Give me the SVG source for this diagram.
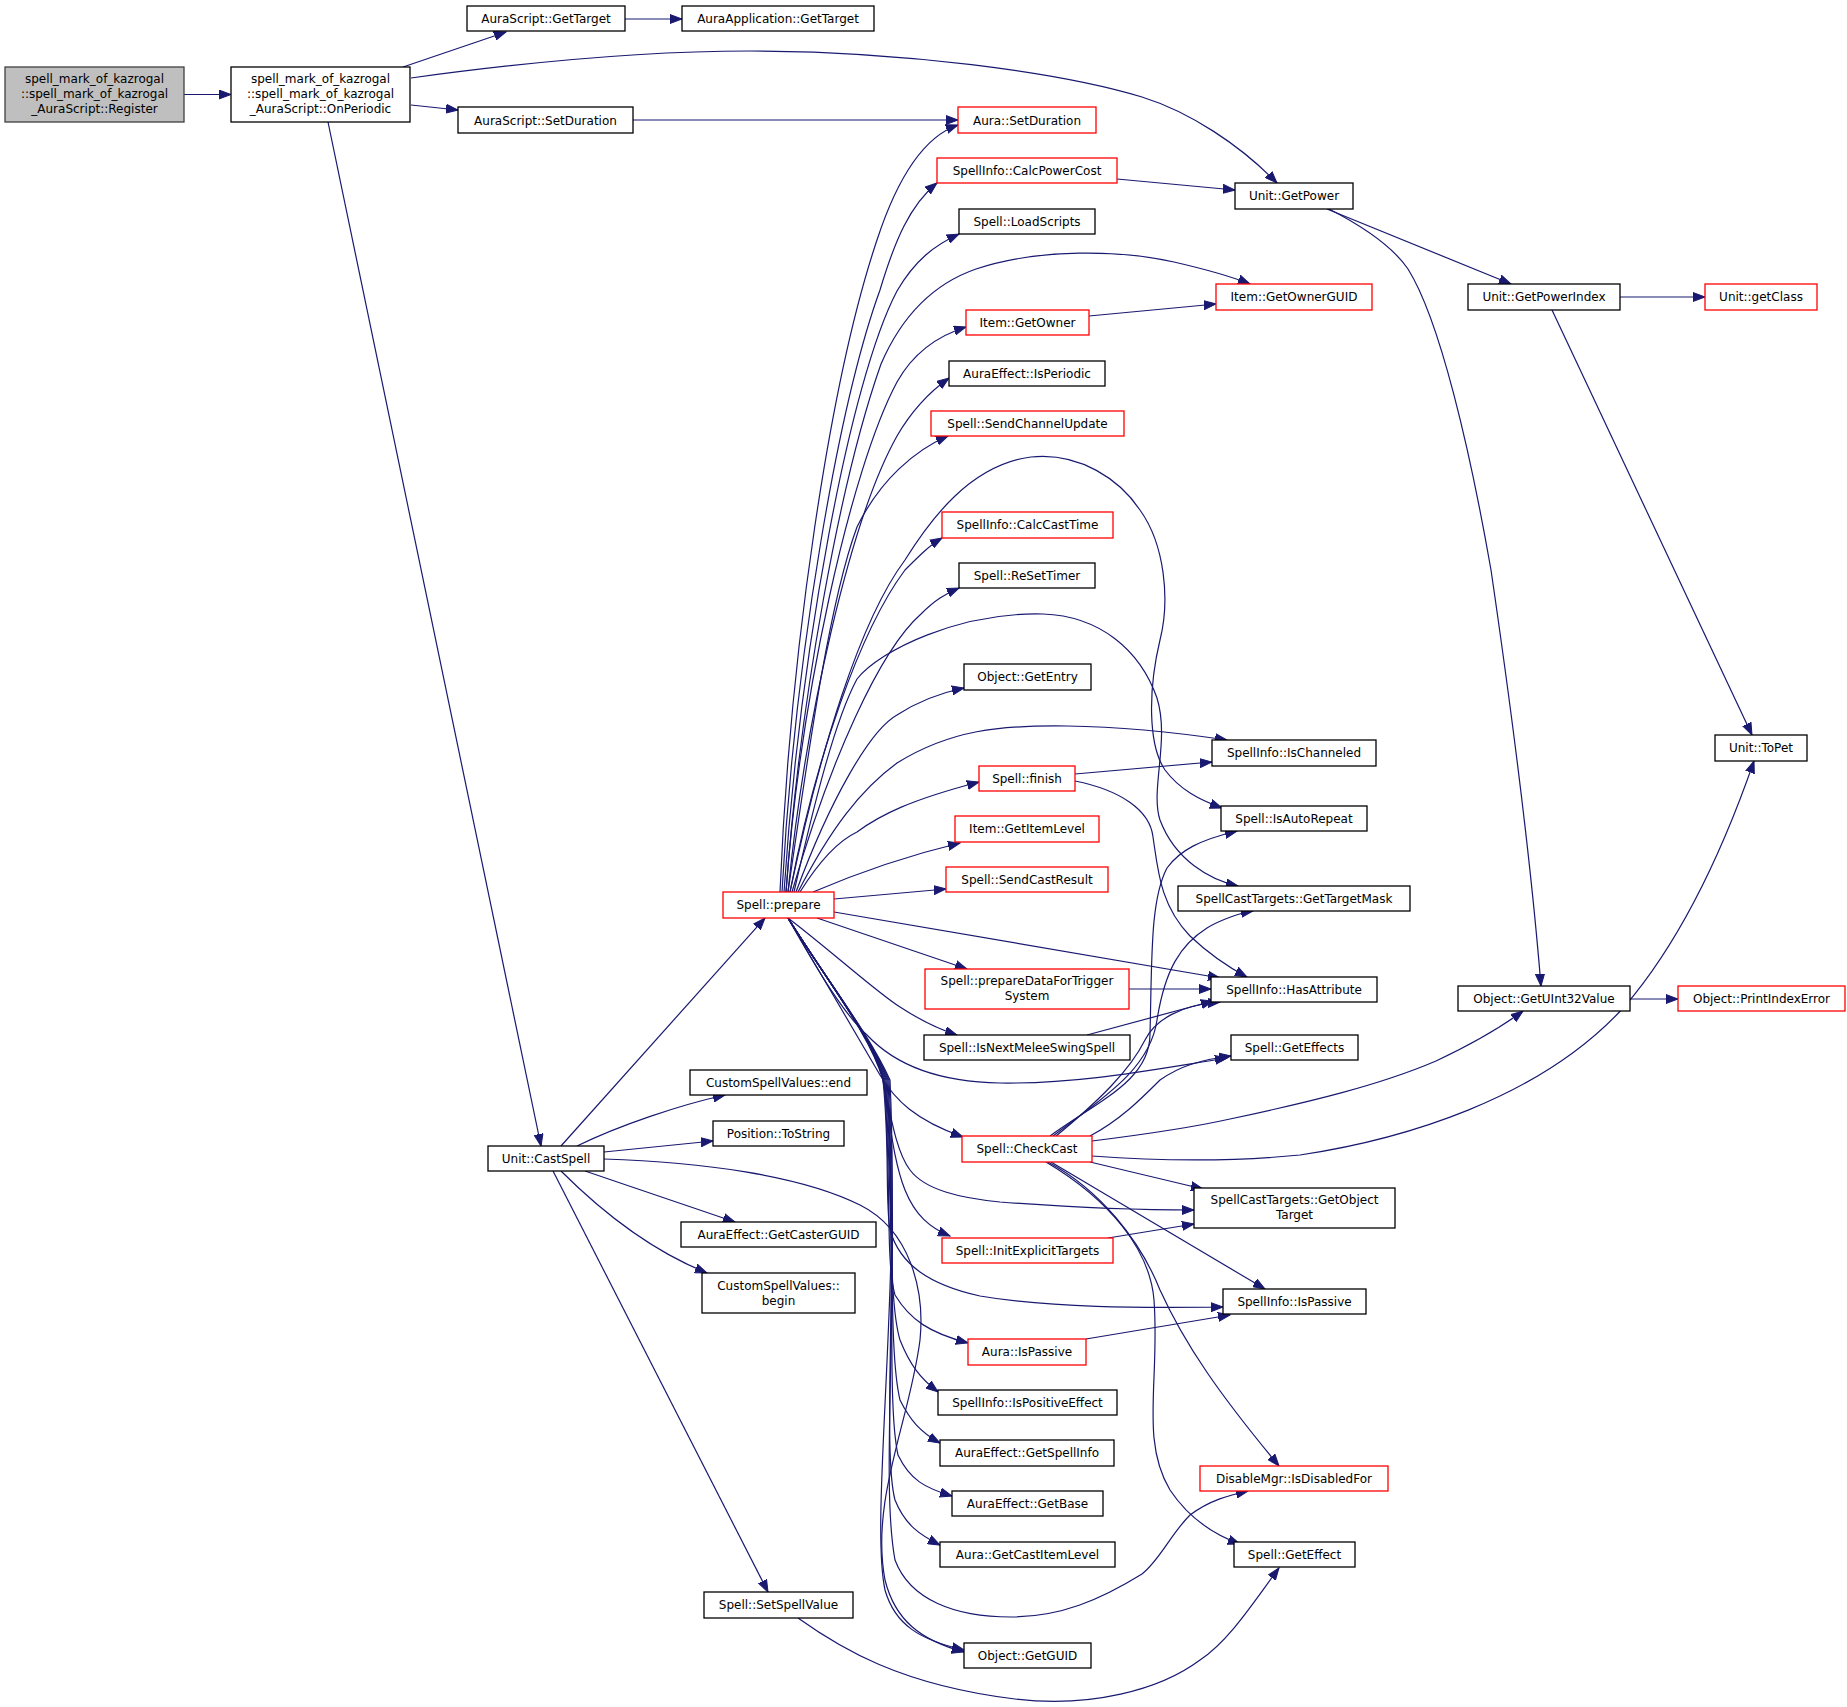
<svg xmlns="http://www.w3.org/2000/svg" width="1847" height="1707" viewBox="0 0 1847 1707">
<style>
.node rect{fill:#ffffff;stroke:#000000;stroke-width:1.3}
.node.red rect{stroke:#ff0000}
.node.root rect{fill:#bfbfbf;stroke:#404040}
text{font-family:"DejaVu Sans","Liberation Sans",sans-serif;font-size:12px;text-anchor:middle;fill:#000000}
#edges path{fill:none;stroke:#191970;stroke-width:1.2;marker-end:url(#arr)}
</style>
<defs>
<marker id="arr" markerUnits="userSpaceOnUse" markerWidth="14" markerHeight="10" refX="12" refY="5" orient="auto">
<path d="M0,0.5 L12,5 L0,9.5 z" fill="#191970" stroke="#191970" stroke-width="1"/>
</marker>
</defs>
<rect x="0" y="0" width="1847" height="1707" fill="#ffffff"/>
<g id="edges">
<path d="M184,94.5 L231,94.5"/>
<path d="M403,67 L506,32"/>
<path d="M411,78 C520,63 640,51 750,51 C900,51 1060,72 1142,97 C1190,112 1240,145 1277,183"/>
<path d="M411,105 L458,110"/>
<path d="M328,122 L541,1146"/>
<path d="M625,19 L682,19"/>
<path d="M633,120 L958,120"/>
<path d="M1117,179 L1235,190"/>
<path d="M1327,209 L1511,284"/>
<path d="M1329,209 C1370,230 1395,250 1408,269 C1440,320 1470,450 1491,570 C1510,700 1530,850 1541,986"/>
<path d="M1620,297 L1705,297"/>
<path d="M1552,310 L1752,735"/>
<path d="M1089,316 L1216,304"/>
<path d="M1630,999 L1678,999"/>
<path d="M1075,774 L1212,762"/>
<path d="M1075,781 C1120,790 1150,810 1153,837 C1158,870 1160,905 1190,936 C1210,955 1230,968 1247,977"/>
<path d="M1129,989 L1211,989"/>
<path d="M1087,1035 L1213,1001"/>
<path d="M1086,1339 L1230,1315"/>
<path d="M1108,1238 L1194,1224"/>
<!-- Spell::prepare upward -->
<path d="M780,892 C790,650 830,380 877,240 C895,185 920,138 958,125"/>
<path d="M782,892 C795,650 840,400 880,290 C895,240 910,205 937,183"/>
<path d="M784,892 C800,650 850,380 897,291 C915,260 935,245 959,234"/>
<path d="M786,892 C800,700 840,480 881,364 C900,320 930,285 976,269 C1040,248 1120,250 1174,262 C1200,268 1230,276 1250,284"/>
<path d="M786,892 C800,700 850,470 897,382 C915,350 940,335 966,327"/>
<path d="M788,892 C805,720 850,520 897,436 C915,405 935,388 949,378"/>
<path d="M788,892 C810,740 830,600 857,527 C880,480 915,450 948,436"/>
<path d="M790,892 C820,750 860,620 905,560 C930,520 970,465 1031,457 C1080,452 1120,480 1140,510 C1165,545 1170,600 1160,640 C1148,690 1148,745 1165,770 C1180,790 1200,800 1222,808"/>
<path d="M790,892 C815,760 860,630 905,570 C920,555 930,545 942,538"/>
<path d="M792,892 C830,760 880,650 921,614 C935,600 945,594 959,588"/>
<path d="M794,892 C815,800 835,720 857,679 C880,650 960,612 1043,614 C1100,616 1140,650 1157,698 C1170,740 1150,790 1160,820 C1175,860 1210,880 1238,886"/>
<path d="M796,892 C830,800 870,730 897,715 C920,700 940,693 964,688"/>
<path d="M798,892 C830,830 860,790 897,763 C950,730 1000,725 1067,726 C1130,727 1180,733 1227,740"/>
<path d="M800,892 C820,860 840,840 857,832 C880,815 910,800 979,782"/>
<path d="M813,892 C860,872 910,855 960,843"/>
<path d="M834,899 L946,889"/>
<!-- Spell::prepare downward -->
<path d="M834,912 L1220,978"/>
<path d="M817,918 L967,969"/>
<path d="M788,918 C830,950 880,995 900,1007 C920,1020 935,1028 957,1035"/>
<path d="M788,918 C820,975 845,1015 867,1035 C895,1065 940,1082 1000,1083 C1080,1084 1150,1070 1227,1058"/>
<path d="M788,918 C830,990 865,1050 880,1075 C895,1100 915,1120 963,1137"/>
<path d="M788,918 C830,985 870,1035 882,1075 C890,1110 895,1150 910,1170 C925,1190 960,1198 1000,1202 C1080,1208 1150,1210 1194,1210"/>
<path d="M788,918 C830,985 870,1035 882,1075 C890,1120 893,1160 905,1190 C915,1215 930,1228 950,1236"/>
<path d="M788,918 C830,985 870,1035 883,1080 C890,1150 885,1200 890,1230 C900,1265 930,1285 980,1296 C1050,1308 1140,1308 1223,1307"/>
<path d="M788,918 C830,985 870,1035 884,1080 C892,1180 885,1260 895,1295 C910,1320 930,1333 968,1343"/>
<path d="M788,918 C830,985 870,1035 885,1080 C893,1200 888,1300 900,1340 C910,1365 920,1378 938,1392"/>
<path d="M788,918 C830,985 870,1035 886,1080 C895,1220 888,1350 900,1400 C910,1420 920,1432 940,1443"/>
<path d="M788,918 C830,985 870,1035 887,1080 C897,1250 886,1400 898,1455 C910,1480 925,1488 952,1496"/>
<path d="M788,918 C830,985 870,1035 888,1080 C898,1280 882,1450 895,1500 C905,1525 920,1535 940,1545"/>
<path d="M788,918 C830,985 870,1035 889,1080 C900,1300 880,1480 895,1560 C910,1600 955,1617 1011,1617 C1060,1617 1100,1600 1142,1574 C1160,1560 1170,1535 1190,1515 C1210,1500 1230,1495 1248,1491"/>
<path d="M788,918 C830,985 870,1035 890,1080 C900,1300 870,1520 885,1590 C895,1625 920,1640 964,1650"/>
<!-- Unit::CastSpell -->
<path d="M561,1146 L765,918"/>
<path d="M577,1146 C620,1125 680,1105 725,1095"/>
<path d="M604,1152 L713,1141"/>
<path d="M604,1159 C700,1162 800,1175 860,1205 C910,1230 925,1290 920,1340 C910,1420 870,1500 885,1580 C895,1620 920,1640 964,1652"/>
<path d="M585,1171 L735,1222"/>
<path d="M561,1171 C600,1210 650,1250 707,1273"/>
<path d="M553,1171 L768,1592"/>
<!-- Spell::CheckCast -->
<path d="M1050,1136 C1100,1100 1150,1080 1150,1034 C1152,960 1150,900 1167,868 C1180,850 1200,840 1237,831"/>
<path d="M1053,1136 C1100,1100 1150,1070 1157,1020 C1165,970 1180,945 1207,928 C1220,920 1240,913 1253,911"/>
<path d="M1056,1136 C1100,1100 1130,1070 1145,1040 C1155,1020 1180,1005 1220,1002"/>
<path d="M1090,1136 C1120,1120 1140,1100 1160,1080 C1180,1066 1200,1060 1231,1056"/>
<path d="M1092,1141 C1140,1135 1190,1128 1230,1119 C1310,1102 1380,1085 1436,1061 C1470,1045 1500,1028 1523,1011"/>
<path d="M1092,1156 C1160,1161 1230,1162 1300,1155 C1400,1140 1540,1100 1625,1006 C1690,930 1730,830 1754,761"/>
<path d="M1090,1162 L1203,1189"/>
<path d="M1051,1162 L1265,1289"/>
<path d="M1048,1162 C1100,1190 1140,1240 1160,1290 C1185,1345 1220,1395 1279,1466"/>
<path d="M1046,1162 C1110,1200 1150,1250 1154,1300 C1160,1380 1140,1440 1170,1490 C1190,1520 1215,1535 1240,1544"/>
<path d="M798,1618 C840,1648 900,1685 1015,1699 C1090,1708 1160,1690 1200,1660 C1230,1640 1255,1600 1279,1568"/>
</g>
<g id="n_register" class="node root"><rect x="5" y="67" width="179" height="55"/><text x="94.5" y="82.5">spell_mark_of_kazrogal</text><text x="94.5" y="97.5">::spell_mark_of_kazrogal</text><text x="94.5" y="112.5">_AuraScript::Register</text></g>
<g id="n_onperiodic" class="node"><rect x="231" y="67" width="179" height="55"/><text x="320.5" y="82.5">spell_mark_of_kazrogal</text><text x="320.5" y="97.5">::spell_mark_of_kazrogal</text><text x="320.5" y="112.5">_AuraScript::OnPeriodic</text></g>
<g id="n_as_gettarget" class="node"><rect x="467" y="6" width="158" height="25"/><text x="546" y="23">AuraScript::GetTarget</text></g>
<g id="n_aa_gettarget" class="node"><rect x="682" y="6" width="192" height="25"/><text x="778" y="23">AuraApplication::GetTarget</text></g>
<g id="n_as_setduration" class="node"><rect x="458" y="107" width="175" height="26"/><text x="545.5" y="124.5">AuraScript::SetDuration</text></g>
<g id="n_aura_setduration" class="node red"><rect x="958" y="107" width="138" height="26"/><text x="1027" y="124.5">Aura::SetDuration</text></g>
<g id="n_calcpowercost" class="node red"><rect x="937" y="158" width="180" height="25"/><text x="1027" y="175">SpellInfo::CalcPowerCost</text></g>
<g id="n_loadscripts" class="node"><rect x="959" y="209" width="136" height="25"/><text x="1027" y="226">Spell::LoadScripts</text></g>
<g id="n_getowner" class="node red"><rect x="966" y="310" width="123" height="25"/><text x="1027.5" y="327">Item::GetOwner</text></g>
<g id="n_isperiodic" class="node"><rect x="949" y="361" width="156" height="25"/><text x="1027" y="378">AuraEffect::IsPeriodic</text></g>
<g id="n_sendchannel" class="node red"><rect x="931" y="411" width="193" height="25"/><text x="1027.5" y="428">Spell::SendChannelUpdate</text></g>
<g id="n_calccasttime" class="node red"><rect x="942" y="512" width="171" height="26"/><text x="1027.5" y="529">SpellInfo::CalcCastTime</text></g>
<g id="n_resettimer" class="node"><rect x="959" y="563" width="136" height="25"/><text x="1027" y="580">Spell::ReSetTimer</text></g>
<g id="n_getentry" class="node"><rect x="964" y="664" width="127" height="26"/><text x="1027.5" y="681">Object::GetEntry</text></g>
<g id="n_finish" class="node red"><rect x="979" y="766" width="96" height="25"/><text x="1027" y="783">Spell::finish</text></g>
<g id="n_getitemlevel" class="node red"><rect x="955" y="816" width="144" height="26"/><text x="1027" y="833">Item::GetItemLevel</text></g>
<g id="n_sendcastresult" class="node red"><rect x="946" y="867" width="162" height="25"/><text x="1027" y="884">Spell::SendCastResult</text></g>
<g id="n_prepare" class="node red"><rect x="723" y="892" width="111" height="26"/><text x="778.5" y="909">Spell::prepare</text></g>
<g id="n_preparedata" class="node red"><rect x="925" y="969" width="204" height="40"/><text x="1027" y="985">Spell::prepareDataForTrigger</text><text x="1027" y="1000">System</text></g>
<g id="n_isnextmelee" class="node"><rect x="924" y="1035" width="206" height="25"/><text x="1027" y="1052">Spell::IsNextMeleeSwingSpell</text></g>
<g id="n_cs_end" class="node"><rect x="690" y="1070" width="177" height="25"/><text x="778.5" y="1087">CustomSpellValues::end</text></g>
<g id="n_tostring" class="node"><rect x="713" y="1121" width="131" height="25"/><text x="778.5" y="1138">Position::ToString</text></g>
<g id="n_checkcast" class="node red"><rect x="962" y="1136" width="130" height="26"/><text x="1027" y="1153">Spell::CheckCast</text></g>
<g id="n_castspell" class="node"><rect x="488" y="1146" width="116" height="25"/><text x="546" y="1163">Unit::CastSpell</text></g>
<g id="n_castergud" class="node"><rect x="681" y="1222" width="195" height="25"/><text x="778.5" y="1239">AuraEffect::GetCasterGUID</text></g>
<g id="n_cs_begin" class="node"><rect x="702" y="1273" width="153" height="40"/><text x="778.5" y="1289.5">CustomSpellValues::</text><text x="778.5" y="1304.5">begin</text></g>
<g id="n_initexplicit" class="node red"><rect x="942" y="1238" width="171" height="25"/><text x="1027.5" y="1255">Spell::InitExplicitTargets</text></g>
<g id="n_aura_ispassive" class="node red"><rect x="968" y="1339" width="118" height="26"/><text x="1027" y="1356">Aura::IsPassive</text></g>
<g id="n_ispositive" class="node"><rect x="938" y="1390" width="179" height="25"/><text x="1027.5" y="1407">SpellInfo::IsPositiveEffect</text></g>
<g id="n_getspellinfo" class="node"><rect x="940" y="1440" width="174" height="26"/><text x="1027" y="1457">AuraEffect::GetSpellInfo</text></g>
<g id="n_getbase" class="node"><rect x="952" y="1491" width="151" height="25"/><text x="1027.5" y="1508">AuraEffect::GetBase</text></g>
<g id="n_castitemlevel" class="node"><rect x="940" y="1542" width="175" height="25"/><text x="1027.5" y="1559">Aura::GetCastItemLevel</text></g>
<g id="n_setspellvalue" class="node"><rect x="704" y="1592" width="149" height="26"/><text x="778.5" y="1609">Spell::SetSpellValue</text></g>
<g id="n_getguid" class="node"><rect x="964" y="1643" width="127" height="25"/><text x="1027.5" y="1660">Object::GetGUID</text></g>
<g id="n_getpower" class="node"><rect x="1235" y="183" width="118" height="26"/><text x="1294" y="200">Unit::GetPower</text></g>
<g id="n_getownerguid" class="node red"><rect x="1216" y="284" width="156" height="26"/><text x="1294" y="301">Item::GetOwnerGUID</text></g>
<g id="n_getpowerindex" class="node"><rect x="1468" y="284" width="152" height="26"/><text x="1544" y="301">Unit::GetPowerIndex</text></g>
<g id="n_getclass" class="node red"><rect x="1705" y="284" width="112" height="26"/><text x="1761" y="301">Unit::getClass</text></g>
<g id="n_ischanneled" class="node"><rect x="1212" y="740" width="164" height="26"/><text x="1294" y="757">SpellInfo::IsChanneled</text></g>
<g id="n_isautorepeat" class="node"><rect x="1221" y="806" width="146" height="25"/><text x="1294" y="823">Spell::IsAutoRepeat</text></g>
<g id="n_gettargetmask" class="node"><rect x="1178" y="886" width="232" height="25"/><text x="1294" y="903">SpellCastTargets::GetTargetMask</text></g>
<g id="n_hasattribute" class="node"><rect x="1211" y="977" width="166" height="25"/><text x="1294" y="994">SpellInfo::HasAttribute</text></g>
<g id="n_geteffects" class="node"><rect x="1231" y="1035" width="127" height="25"/><text x="1294.5" y="1052">Spell::GetEffects</text></g>
<g id="n_getobjecttarget" class="node"><rect x="1194" y="1188" width="201" height="40"/><text x="1294.5" y="1204">SpellCastTargets::GetObject</text><text x="1294.5" y="1219">Target</text></g>
<g id="n_si_ispassive" class="node"><rect x="1223" y="1289" width="143" height="25"/><text x="1294.5" y="1306">SpellInfo::IsPassive</text></g>
<g id="n_isdisabled" class="node red"><rect x="1200" y="1466" width="188" height="25"/><text x="1294" y="1483">DisableMgr::IsDisabledFor</text></g>
<g id="n_geteffect" class="node"><rect x="1234" y="1542" width="121" height="25"/><text x="1294.5" y="1559">Spell::GetEffect</text></g>
<g id="n_getuint32" class="node"><rect x="1458" y="986" width="172" height="25"/><text x="1544" y="1003">Object::GetUInt32Value</text></g>
<g id="n_printindex" class="node red"><rect x="1678" y="986" width="167" height="25"/><text x="1761.5" y="1003">Object::PrintIndexError</text></g>
<g id="n_topet" class="node"><rect x="1715" y="735" width="92" height="26"/><text x="1761" y="752">Unit::ToPet</text></g>
</svg>
